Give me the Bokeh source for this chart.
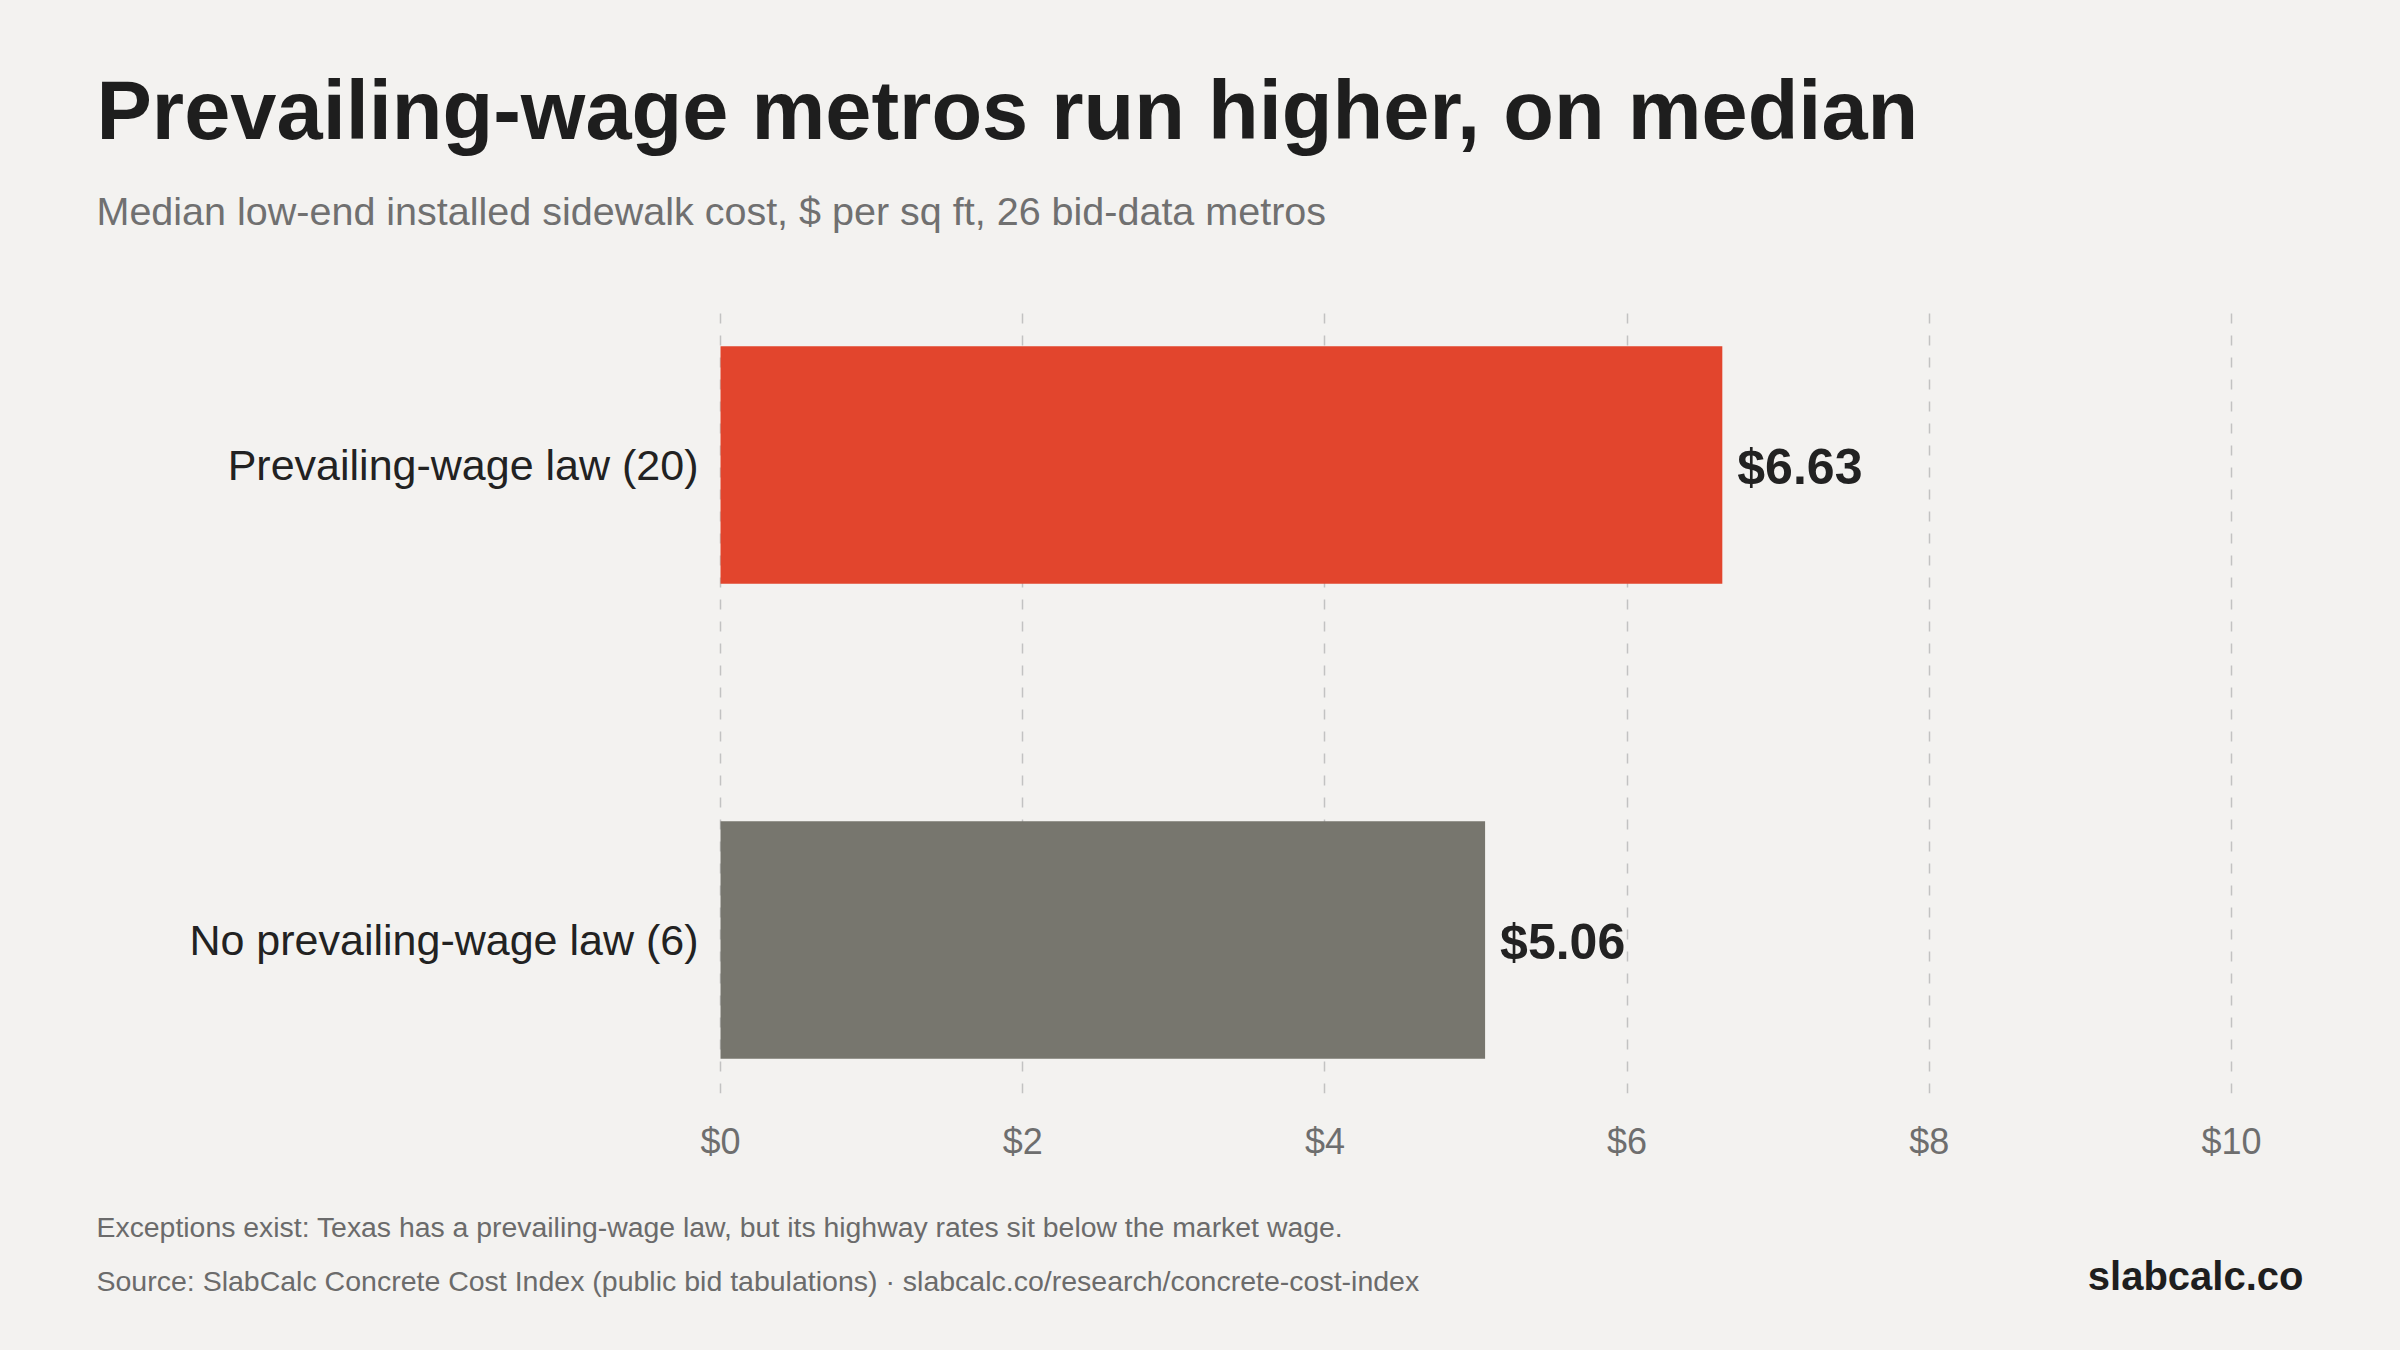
from bokeh.plotting import figure
from bokeh.models import ColumnDataSource, FixedTicker, Range1d
from bokeh.layouts import column
from bokeh.core.properties import value
from bokeh.embed import file_html
from bokeh.resources import INLINE

# --- data ---
groups = ["Prevailing-wage law (20)", "No prevailing-wage law (6)"]
median_cost = [6.63, 5.06]
bar_colors = ["#E2452D", "#77766E"]
x_ticks = [0, 2, 4, 6, 8, 10]
x_tick_labels = ["$0", "$2", "$4", "$6", "$8", "$10"]

title_text = "Prevailing-wage metros run higher, on median"
subtitle_text = "Median low-end installed sidewalk cost, $ per sq ft, 26 bid-data metros"
note_text = "Exceptions exist: Texas has a prevailing-wage law, but its highway rates sit below the market wage."
source_text = "Source: SlabCalc Concrete Cost Index (public bid tabulations) \u00b7 slabcalc.co/research/concrete-cost-index"
brand_text = "slabcalc.co"

W = 2400
HEAD_H, CHART_H, FOOT_H = 290, 890, 170
BG = "#F3F2F0"
FONT = "Liberation Sans"
INK = "#1E1E1E"
GREY_TEXT = "#6B6B6B"


def text_panel(height, y_top):
    """A plain pixel-space panel for header / footer text (y grows downward)."""
    f = figure(width=W, height=height, x_range=Range1d(0, W),
               y_range=Range1d(y_top + height, y_top),
               output_backend="svg", toolbar_location=None,
               min_border=0, frame_align=False,
               background_fill_color=BG, border_fill_color=BG)
    f.axis.visible = False
    f.grid.visible = False
    f.outline_line_color = None
    return f


def put_text(f, x, y, text, size, color, bold=False, align="left"):
    f.text(x=[x], y=[y], text=[text], text_font=value(FONT), text_font_size="%gpx" % size,
           text_color=color, text_font_style="bold" if bold else "normal",
           text_align=align, text_baseline="alphabetic")


# --- header ---
head = text_panel(HEAD_H, 0)
put_text(head, 96, 110, title_text, 83, INK, bold=True)
put_text(head, 96, 210, subtitle_text, 39.5, "#707070")

# --- main chart ---
ypos = [1, 0]  # rows from top to bottom
src = ColumnDataSource(dict(
    y=ypos,
    cost=median_cost,
    color=bar_colors,
    label=["$%.2f" % v for v in median_cost],
))

PX_PER_UNIT = 151.1
X0 = -0.02
FRAME_L = int(round(720 + X0 * PX_PER_UNIT))
FRAME_R = 2240
FRAME_T = 311 - HEAD_H
FRAME_B = 1093 - HEAD_H

p = figure(
    width=W, height=CHART_H,
    x_range=Range1d(X0, X0 + (FRAME_R - FRAME_L) / PX_PER_UNIT),
    y_range=Range1d(-0.323, 1.323),
    output_backend="svg", toolbar_location=None, frame_align=False,
    min_border_left=FRAME_L, min_border_right=W - FRAME_R,
    min_border_top=FRAME_T, min_border_bottom=CHART_H - FRAME_B,
    background_fill_color=BG, border_fill_color=BG,
)
p.outline_line_color = None

p.hbar(y="y", left=0, right="cost", height=0.5, color="color", line_color=None, source=src)
p.text(x="cost", y="y", text="label", source=src, x_offset=15, y_offset=2,
       text_baseline="middle", text_align="left",
       text_font=value(FONT), text_font_style="bold",
       text_font_size="50px", text_color="#222222")

xa = p.xaxis[0]
xa.ticker = FixedTicker(ticks=x_ticks)
xa.major_label_overrides = {t: s for t, s in zip(x_ticks, x_tick_labels)}
xa.axis_line_color = None
xa.major_tick_line_color = None
xa.minor_tick_line_color = None
xa.major_label_text_font = FONT
xa.major_label_text_font_size = "36px"
xa.major_label_text_color = "#6E6E6E"
xa.major_label_standoff = 21

ya = p.yaxis[0]
ya.ticker = FixedTicker(ticks=ypos)
ya.major_label_overrides = {y: g for y, g in zip(ypos, groups)}
ya.axis_line_color = None
ya.major_tick_line_color = None
ya.minor_tick_line_color = None
ya.major_label_text_font = FONT
ya.major_label_text_font_size = "43px"
ya.major_label_text_color = "#222222"
ya.major_label_standoff = 13

p.ygrid.grid_line_color = None
p.xgrid.ticker = FixedTicker(ticks=x_ticks)
p.xgrid.grid_line_color = "#C2C2C2"
p.xgrid.grid_line_width = 1.5
p.xgrid.grid_line_dash = "10 12"

# --- footer ---
foot = text_panel(FOOT_H, HEAD_H + CHART_H)
put_text(foot, 96, 1226, note_text, 28.4, GREY_TEXT)
put_text(foot, 96, 1280, source_text, 28.5, GREY_TEXT)
put_text(foot, 2303, 1275, brand_text, 40, INK, bold=True, align="right")

page = column(head, p, foot, spacing=0, styles={"background-color": BG})
html = file_html(page, INLINE, title="Prevailing-wage metros run higher, on median")
html = html.replace("<head>", "<head><style>html,body{margin:0;background:%s;}</style>" % BG, 1)
open("out.html", "w").write(html)
